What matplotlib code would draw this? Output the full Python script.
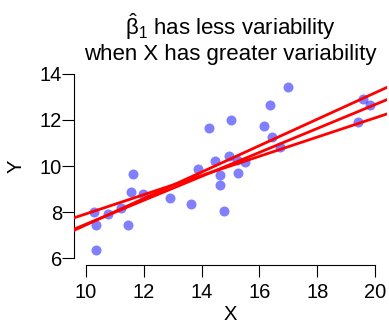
import numpy as np
import matplotlib.pyplot as plt

plt.rcParams['font.family'] = ['Liberation Sans', 'DejaVu Sans']
plt.rcParams['mathtext.fontset'] = 'custom'
plt.rcParams['mathtext.rm'] = 'Liberation Sans'
plt.rcParams['mathtext.it'] = 'Liberation Sans'

# sample points
x = [10.34, 10.29, 10.34, 10.75, 11.21, 11.47, 11.55, 11.64, 11.98, 12.90,
     13.62, 13.88, 14.27, 14.48, 14.64, 14.64, 14.79, 14.95, 15.02, 15.21,
     15.25, 15.50, 16.15, 16.37, 16.42, 16.71, 17.00, 19.42, 19.60, 19.83]
y = [6.35, 7.99, 7.43, 7.90, 8.19, 7.43, 8.86, 9.65, 8.77, 8.60,
     8.36, 9.87, 11.64, 10.22, 9.63, 9.16, 8.04, 10.42, 12.00, 10.27,
     9.70, 10.19, 11.75, 12.64, 11.26, 10.84, 13.42, 11.91, 12.90, 12.64]

# fitted regression lines
intercepts = [1.70, 2.27, 3.75]
slopes = [0.574, 0.520, 0.417]

xticks = [10, 12, 14, 16, 18, 20]
yticks = [6, 8, 10, 12, 14]

fig = plt.figure(figsize=(3.89, 3.32), dpi=100)
ax = fig.add_axes([0.1913, 0.2006, 0.8025, 0.5988])

ax.scatter(x, y, s=52, color='blue', alpha=0.5, linewidths=0, zorder=2)
for b, m in zip(intercepts, slopes):
    ax.axline((0, b), slope=m, color='red', lw=2, zorder=3)

ax.set_xlim(9.6, 20.4)
ax.set_ylim(5.68, 14.32)

for s in ['top', 'right']:
    ax.spines[s].set_visible(False)
ax.spines['left'].set_bounds(6, 14)
ax.spines['bottom'].set_bounds(10, 20)
for s in ['left', 'bottom']:
    ax.spines[s].set_linewidth(0.8)

ax.set_xticks(xticks)
ax.set_yticks(yticks)
ax.tick_params(axis='both', direction='out', length=8.5, width=0.8, labelsize=14.5)
ax.tick_params(axis='x', pad=4)
ax.tick_params(axis='y', pad=0.5)

ax.set_xlabel('X', fontsize=14.5, labelpad=2)
ax.set_ylabel('Y', fontsize=14.5, labelpad=10)

fig.text(0.593, 0.896, r'$\hat{\beta}_1$ has less variability',
         ha='center', va='baseline', fontsize=16)
fig.text(0.593, 0.819, 'when X has greater variability',
         ha='center', va='baseline', fontsize=16)

fig.savefig('out.png', dpi=100)
